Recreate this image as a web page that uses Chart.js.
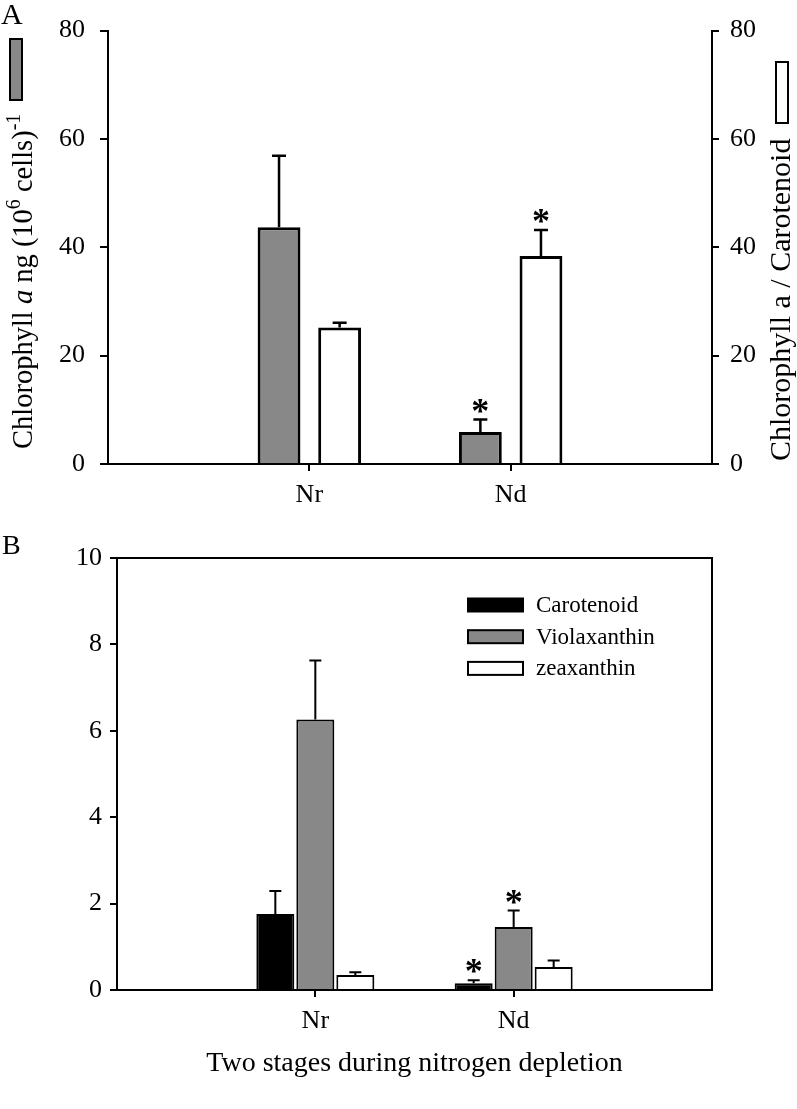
<!DOCTYPE html>
<html>
<head>
<meta charset="utf-8">
<script src="https://cdn.jsdelivr.net/npm/chart.js@4.4.0/dist/chart.umd.min.js"></script>
<style>
  body { margin: 0; background: #fff; }
  canvas { display: block; }
</style>
</head>
<body>
<canvas id="chA" width="797" height="530"></canvas>
<canvas id="chB" width="797" height="579"></canvas>
<script>
const categories = ['Nr', 'Nd'];

// panel A
const chlA = [43.7, 5.9];
const chlAErr = [13.2, 2.3];
const chlAStar = [false, true];
const ratio = [25.2, 38.4];
const ratioErr = [0.85, 4.8];
const ratioStar = [false, true];
const ticksA = [0, 20, 40, 60, 80];

// panel B
const carot = [1.76, 0.155];
const carotErr = [0.53, 0.07];
const carotStar = [false, true];
const viola = [6.26, 1.46];
const violaErr = [1.37, 0.38];
const violaStar = [false, true];
const zea = [0.35, 0.53];
const zeaErr = [0.06, 0.15];
const zeaStar = [false, false];
const ticksB = [0, 2, 4, 6, 8, 10];

const FONT = '"Liberation Serif", "Times New Roman", serif';
const GRAY = '#888888';

// empty slots at both ends so Nr / Nd sit at 1/3 and 2/3 of the axis
const pad = arr => [null, ...arr, null];
const labels = pad(categories).map(l => l || '');

const edgeTick = c => (c.index === 0 || c.index === labels.length - 1) ? 'rgba(0,0,0,0)' : '#000';

const errorBars = {
  id: 'errorBars',
  afterDatasetsDraw(chart, args, o) {
    const ctx = chart.ctx;
    ctx.save();
    ctx.strokeStyle = '#000';
    ctx.fillStyle = '#000';
    ctx.lineWidth = o.lineWidth;
    chart.data.datasets.forEach((ds, di) => {
      const meta = chart.getDatasetMeta(di);
      const ys = chart.scales[meta.yAxisID];
      meta.data.forEach((bar, i) => {
        const v = ds.data[i];
        if (v == null) return;
        const top = ys.getPixelForValue(v + ds.errors[i]);
        ctx.beginPath();
        ctx.moveTo(bar.x, bar.y);
        ctx.lineTo(bar.x, top);
        ctx.moveTo(bar.x - o.cap / 2, top);
        ctx.lineTo(bar.x + o.cap / 2, top);
        ctx.stroke();
        if (ds.stars[i]) {
          ctx.font = 'bold 36px ' + FONT;
          ctx.textAlign = 'center';
          ctx.textBaseline = 'alphabetic';
          const m = ctx.measureText('*');
          const cy = top - o.starGap;
          ctx.fillText('*', bar.x, cy + (m.actualBoundingBoxAscent - m.actualBoundingBoxDescent) / 2);
        }
      });
    });
    ctx.restore();
  }
};

function drawRotated(ctx, parts, x, y, size) {
  ctx.save();
  ctx.translate(x, y);
  ctx.rotate(-Math.PI / 2);
  ctx.textAlign = 'left';
  ctx.textBaseline = 'alphabetic';
  ctx.fillStyle = '#000';
  let cx = 0;
  parts.forEach(p => {
    const s = p.sup ? size * 0.7 : size;
    ctx.font = (p.italic ? 'italic ' : '') + s + 'px ' + FONT;
    ctx.fillText(p.t, cx, p.sup ? -size * 0.42 : 0);
    cx += ctx.measureText(p.t).width;
  });
  ctx.restore();
}

const panelA = {
  id: 'panelA',
  afterDraw(chart) {
    const ctx = chart.ctx;
    const ds = chart.data.datasets;
    ctx.save();
    ctx.fillStyle = '#000';
    ctx.font = '30px ' + FONT;
    ctx.textBaseline = 'top';
    ctx.fillText('A', 1, 1);
    drawRotated(ctx, [
      { t: 'Chlorophyll ' }, { t: 'a', italic: true }, { t: ' ng (10' },
      { t: '6', sup: true }, { t: ' cells)' }, { t: '-1', sup: true }
    ], 32, 449, 28.5);
    drawRotated(ctx, [{ t: 'Chlorophyll a / Carotenoid' }], 790, 461, 30);
    ctx.lineWidth = 2;
    ctx.strokeStyle = '#000';
    ctx.fillStyle = ds[0].backgroundColor;
    ctx.fillRect(10, 39, 12, 61);
    ctx.strokeRect(10, 39, 12, 61);
    ctx.fillStyle = ds[1].backgroundColor;
    ctx.fillRect(776, 62, 12, 61);
    ctx.strokeRect(776, 62, 12, 61);
    ctx.restore();
  }
};

const panelB = {
  id: 'panelB',
  afterDraw(chart, args, o) {
    const ctx = chart.ctx;
    const a = chart.chartArea;
    ctx.save();
    ctx.strokeStyle = '#000';
    ctx.lineWidth = 2;
    ctx.beginPath();
    ctx.moveTo(a.left, a.top);
    ctx.lineTo(a.right, a.top);
    ctx.lineTo(a.right, a.bottom);
    ctx.stroke();
    ctx.fillStyle = '#000';
    ctx.font = '28px ' + FONT;
    ctx.textBaseline = 'top';
    ctx.fillText('B', 2, 3);
    ctx.font = '23px ' + FONT;
    ctx.textBaseline = 'middle';
    chart.data.datasets.forEach((ds, i) => {
      const y = o.y + i * o.gap;
      ctx.fillStyle = ds.backgroundColor;
      ctx.fillRect(o.x, y - 6.5, 55, 13);
      ctx.strokeRect(o.x, y - 6.5, 55, 13);
      ctx.fillStyle = '#000';
      ctx.fillText(ds.label, o.x + 68, y + 1);
    });
    ctx.restore();
  }
};

function yAxis(pos, max, step, width, tickLen, padding) {
  return {
    position: pos,
    min: 0,
    max: max,
    ticks: { stepSize: step, color: '#000', font: { family: FONT, size: 26 }, padding: padding },
    grid: { drawOnChartArea: false, drawTicks: true, tickLength: tickLen, lineWidth: 2, color: '#000' },
    border: { color: '#000', width: 2 },
    afterFit: s => { s.width = width; }
  };
}

function xAxis(height, title) {
  return {
    type: 'category',
    offset: false,
    ticks: { color: '#000', font: { family: FONT, size: 26 }, padding: 9, autoSkip: false, maxRotation: 0 },
    grid: { offset: false, drawOnChartArea: false, drawTicks: true, tickLength: 7, lineWidth: 2, color: edgeTick },
    border: { color: '#000', width: 2 },
    title: title ? { display: true, text: title, color: '#000', font: { family: FONT, size: 28 }, padding: { top: 0, bottom: 29 } } : { display: false },
    afterFit: s => { s.height = height; }
  };
}

const common = {
  responsive: false,
  animation: false,
  devicePixelRatio: 1,
  plugins: { legend: { display: false }, tooltip: { enabled: false } }
};

new Chart(document.getElementById('chA'), {
  type: 'bar',
  data: {
    labels: labels,
    datasets: [
      { label: 'Chlorophyll a', data: pad(chlA), errors: pad(chlAErr), stars: pad(chlAStar), yAxisID: 'y',
        backgroundColor: GRAY, borderColor: '#000', borderWidth: 3, categoryPercentage: 0.602, barPercentage: 0.707 },
      { label: 'Chlorophyll a / Carotenoid', data: pad(ratio), errors: pad(ratioErr), stars: pad(ratioStar), yAxisID: 'y2',
        backgroundColor: '#ffffff', borderColor: '#000', borderWidth: 3, categoryPercentage: 0.602, barPercentage: 0.707 }
    ]
  },
  options: {
    ...common,
    layout: { padding: { top: 28, left: 0, right: 0, bottom: 0 } },
    scales: {
      x: xAxis(66, null),
      y: yAxis('left', ticksA[ticksA.length - 1], ticksA[1] - ticksA[0], 108, 8, 15),
      y2: yAxis('right', ticksA[ticksA.length - 1], ticksA[1] - ticksA[0], 85, 7, 11)
    },
    plugins: { ...common.plugins, errorBars: { lineWidth: 2.5, cap: 14, starGap: 14 } }
  },
  plugins: [errorBars, panelA]
});

new Chart(document.getElementById('chB'), {
  type: 'bar',
  data: {
    labels: labels,
    datasets: [
      { label: 'Carotenoid', data: pad(carot), errors: pad(carotErr), stars: pad(carotStar),
        backgroundColor: '#000000', borderColor: '#000', borderWidth: 2, categoryPercentage: 0.605, barPercentage: 0.95 },
      { label: 'Violaxanthin', data: pad(viola), errors: pad(violaErr), stars: pad(violaStar),
        backgroundColor: GRAY, borderColor: '#000', borderWidth: 2, categoryPercentage: 0.605, barPercentage: 0.95 },
      { label: 'zeaxanthin', data: pad(zea), errors: pad(zeaErr), stars: pad(zeaStar),
        backgroundColor: '#ffffff', borderColor: '#000', borderWidth: 2, categoryPercentage: 0.605, barPercentage: 0.95 }
    ]
  },
  options: {
    ...common,
    layout: { padding: { top: 28, left: 0, right: 85, bottom: 0 } },
    scales: {
      x: xAxis(119, 'Two stages during nitrogen depletion'),
      y: yAxis('left', ticksB[ticksB.length - 1], ticksB[1] - ticksB[0], 117, 7, 8)
    },
    plugins: { ...common.plugins, errorBars: { lineWidth: 2, cap: 12, starGap: 14 }, panelB: { x: 468, y: 75, gap: 31.7 } }
  },
  plugins: [errorBars, panelB]
});
</script>
</body>
</html>
